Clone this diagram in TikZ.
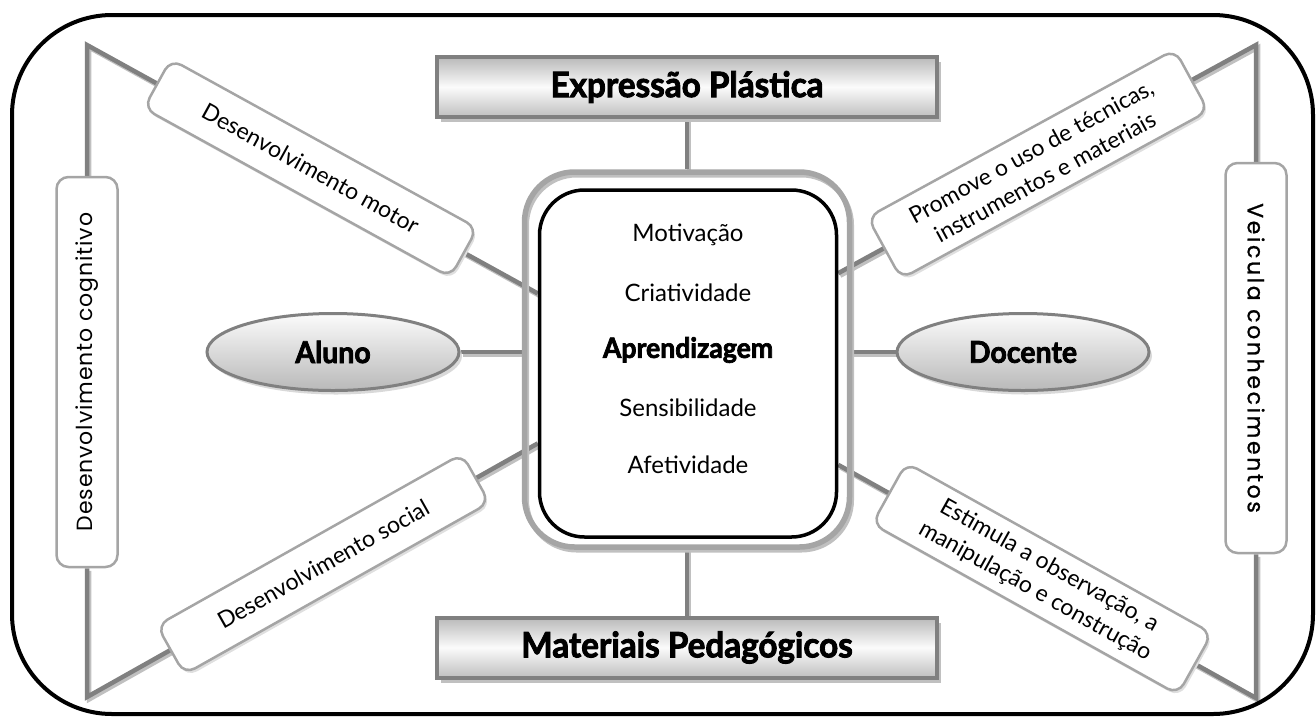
\documentclass[tikz,border=0pt]{standalone}
\usepackage{fontspec}
\setmainfont{Lato}
\newfontfamily\geofont[LetterSpace=4]{Poppins}
\newfontfamily\headfont[FakeStretch=0.95, FakeBold=2.5]{Lato}
\usetikzlibrary{positioning, shapes.geometric, shadows, backgrounds}
\definecolor{linegray}{RGB}{128,128,128}
\definecolor{shadegray}{RGB}{192,192,192}
\definecolor{edgegray}{RGB}{165,165,165}

\begin{document}
\begin{tikzpicture}
  [
    x=1pt, y=-1pt,
    on grid,
    node distance=57.5pt, % spacing of the words in the middle box
    link/.style={draw=linegray, line width=4.5pt,
      preaction={draw=shadegray, line width=4.5pt, transform canvas={shift={(2pt,-2.5pt)}}}},
    title/.style={draw=linegray, line width=4pt, minimum width=500pt, minimum height=60pt,
      top color=gray!55, bottom color=gray!50, middle color=gray!3,
      drop shadow={shadow xshift=4pt, shadow yshift=-5pt, fill=shadegray, opacity=1},
      font=\headfont\bfseries\fontsize{35}{38}\selectfont},
    oval/.style={ellipse, draw=linegray, line width=3pt, minimum width=252pt, minimum height=77pt,
      top color=gray!3, bottom color=gray!55,
      drop shadow={shadow xshift=3pt, shadow yshift=-4pt, fill=gray!30, opacity=1},
      font=\headfont\bfseries\fontsize{30}{32}\selectfont},
    tag/.style={draw=edgegray, line width=2.5pt, rounded corners=12pt, fill=white,
      minimum width=350pt, minimum height=56pt, align=center, inner sep=2pt,
      drop shadow={shadow xshift=2pt, shadow yshift=-3pt, fill=gray!25, opacity=1},
      font=\fontsize{23}{29}\selectfont},
    column/.style={draw=edgegray, line width=2.5pt, rounded corners=12pt, fill=white,
      minimum width=390pt, minimum height=61pt,
      font=\geofont\fontsize{22}{24}\selectfont},
    ring/.style={draw=edgegray, line width=5.5pt, rounded corners=50pt,
      minimum width=325pt, minimum height=375pt,
      preaction={draw=shadegray, line width=5pt, transform canvas={shift={(2pt,-3pt)}}}},
    core/.style={draw=black, line width=3.5pt, rounded corners=45pt, fill=white,
      minimum width=297pt, minimum height=347pt},
    item/.style={font=\fontsize{24}{28}\selectfont}
  ]
    \useasboundingbox (0,0) rectangle (1316,718);
    % =========================================================================
    % FRAME
    % =========================================================================
    \draw [line width=4pt, rounded corners=100pt] (12,15) rectangle (1313,714);

    % =========================================================================
    % NODES
    % =========================================================================
    \node [title] (expr) at (687,87) {Expressão Plástica};
    \node [title] (mat) at (687,647.5) {Materiais Pedagógicos};

    \node [ring] (centro) at (687,359.5) {};
    \node [core] (nucleo) at (688,363.5) {};
    \node [item] (motiv) at (688,235) {Motivação};
    \node [item, below=of motiv] (criat) {Criatividade};
    \node [item, below=of criat, font=\headfont\bfseries\fontsize{28}{30}\selectfont] (aprend) {Aprendizagem};
    \node [item, below=of aprend] (sensib) {Sensibilidade};
    \node [item, below=of sensib] (afetiv) {Afetividade};

    \node [oval] (aluno) at (333,352) {Aluno};
    \node [oval] (docente) at (1023,352) {Docente};

    \coordinate (tl) at (87,45);
    \coordinate (bl) at (87,697);
    \coordinate (tr) at (1256,45);
    \coordinate (br) at (1256,698);

    \node [column, rotate=90] (cogn) at (87,372) {Desenvolvimento cognitivo};
    \node [column, rotate=-90,
      font=\geofont\addfontfeatures{LetterSpace=12, FakeBold=1}\fontsize{22}{24}\selectfont]
      (veic) at (1256,358) {Veicula conhecimentos};

    \path (tl) -- node [tag, sloped, pos=0.496] (motor) {Desenvolvimento motor} (nucleo.155);
    \path (bl) -- node [tag, sloped, pos=0.524] (social) {Desenvolvimento social} (nucleo.208);
    \path (nucleo.31) -- node [tag, sloped, pos=0.478, minimum height=70pt]
      (promove) {Promove o uso de técnicas,\\ instrumentos e materiais} (tr);
    \path (nucleo.-34) -- node [tag, sloped, pos=0.488, minimum height=70pt]
      (estimula) {Estimula a observação, a\\ manipulação e construção} (br);

    % =========================================================================
    % PATHS
    % =========================================================================
    \begin{scope}[on background layer]
      % --- STRAIGHT ---
      \draw [link] (expr.south) -- (centro.north);
      \draw [link] (centro.south) -- (mat.north);
      \draw [link] (aluno.east) -- (aluno.east -| centro.west);
      \draw [link] (docente.west) -- (docente.west -| centro.east);
      % --- SIDES ---
      \draw [link] (cogn.east) -- (tl) -- (nucleo.155);
      \draw [link] (cogn.west) -- (bl) -- (nucleo.208);
      \draw [link] (veic.west) -- (tr) -- (nucleo.31);
      \draw [link] (veic.east) -- (br) -- (nucleo.-34);
    \end{scope}
\end{tikzpicture}
\end{document}
